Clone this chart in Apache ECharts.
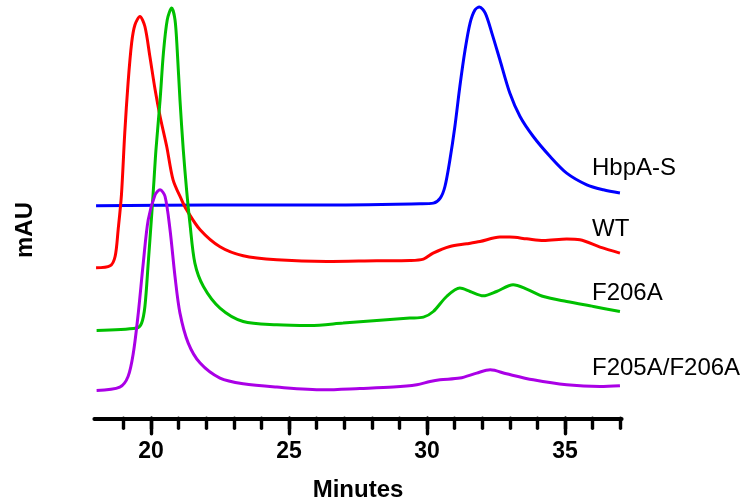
<!DOCTYPE html>
<html>
<head>
<meta charset="utf-8">
<script src="https://cdn.jsdelivr.net/npm/echarts@6/dist/echarts.min.js"></script>
<style>html,body{margin:0;padding:0;background:#fff}#c{width:756px;height:504px}</style>
</head>
<body>
<div id="c"></div>
<script>
// Elution time (minutes) and offset absorbance (mAU, arbitrary offset units)
const hbpaTime = [18.01,22.14,26.13,29.75,30.23,30.48,30.65,30.83,31.01,31.19,31.38,31.56,31.74,31.90,32.11,32.35,32.64,33.00,33.37,33.85,34.46,35.06,35.79,36.39,36.99];
const hbpaMAU  = [212.5,213.2,213.2,214.5,215.2,220.2,231.8,258.5,291.8,331.8,368.5,395.2,408.5,411.2,405.2,385.2,358.5,325.2,301.8,281.8,261.8,245.2,233.5,228.5,225.2];

const wtTime = [18.01,18.52,18.70,18.81,18.93,19.05,19.17,19.30,19.42,19.60,19.78,19.96,20.15,20.33,20.57,20.80,21.11,21.29,21.78,22.50,23.34,24.56,26.37,28.18,29.38,29.87,30.22,30.83,31.44,31.92,32.64,33.00,33.61,34.22,35.06,35.54,36.27,36.99];
const wtMAU  = [150.5,152.5,161.8,188.5,223.5,285.5,335.5,375.5,393.5,401.8,391.8,361.8,328.5,301.8,271.8,238.5,218.5,208.5,188.5,171.5,162.5,158.5,156.8,157.5,157.8,159.2,165.2,171.8,174.5,176.8,181.2,181.2,179.5,177.8,179.2,178.5,171.2,165.2];

const f206aTime = [18.03,19.48,19.66,19.78,19.90,20.03,20.11,20.18,20.33,20.45,20.59,20.75,20.87,20.95,21.05,21.17,21.29,21.41,21.59,21.90,22.50,23.34,24.56,25.76,26.96,28.18,29.38,29.87,30.23,30.71,31.19,31.56,32.04,32.52,33.12,33.61,34.22,35.06,36.03,36.99];
const f206aMAU  = [87.8,90.2,95.2,111.8,155.2,205.2,238.5,268.5,318.5,365.2,398.5,410.2,398.5,368.5,318.5,268.5,228.5,195.2,155.2,131.8,110.2,96.8,93.5,92.8,95.2,97.8,100.2,101.2,106.8,121.8,130.2,126.8,122.5,126.8,133.5,129.2,121.8,116.8,111.8,106.8];

const f205aTime = [18.03,18.87,19.17,19.36,19.54,19.72,19.90,20.15,20.33,20.51,20.69,20.87,21.05,21.35,21.78,22.50,23.34,24.56,26.25,27.57,28.78,29.63,30.11,30.47,31.19,31.80,32.29,32.88,33.85,35.06,36.27,36.99];
const f205aMAU  = [27.8,31.2,41.8,65.2,105.2,155.2,198.5,223.5,228.5,221.8,188.5,141.8,105.2,75.2,55.2,40.2,34.5,31.2,28.5,29.8,31.2,33.5,36.8,38.5,40.2,45.2,48.5,44.5,38.5,33.5,31.8,32.5];

const seriesNames = ['HbpA-S','WT','F206A','F205A/F206A'];
const majorTicks = [20,25,30,35];
const minorTicks = [19,20,21,22,23,24,25,26,27,28,29,30,31,32,33,34,35,36,37];
const xLabel = 'Minutes';
const yLabel = 'mAU';

const colors = ['#0000FF','#FF0000','#00C000','#AA00E6'];
const zip = (a,b) => a.map((v,i)=>[v,b[i]]);
const seriesData = [zip(hbpaTime,hbpaMAU), zip(wtTime,wtMAU), zip(f206aTime,f206aMAU), zip(f205aTime,f205aMAU)];
const labelY = [168,229,293,368];
const FONT = '"Liberation Sans", Arial, Helvetica, sans-serif';

const chart = echarts.init(document.getElementById('c'), null, {renderer:'canvas'});
chart.setOption({
  animation:false,
  backgroundColor:'#fff',
  grid:{left:94.4, right:134.4, top:0, bottom:85.7, containLabel:false, outerBoundsMode:'none'},
  xAxis:[{
    type:'value', min:17.95, max:37.05, position:'bottom',
    axisLine:{show:true, lineStyle:{color:'#000', width:4, cap:'round'}},
    axisTick:{show:true, customValues:majorTicks, length:15.5, lineStyle:{color:'#000', width:3.4, cap:'round'}},
    axisLabel:{show:true, customValues:majorTicks, margin:22, color:'#000', fontSize:23, fontWeight:'bold', fontFamily:FONT},
    splitLine:{show:false},
    name:xLabel, nameLocation:'middle', nameGap:60,
    nameTextStyle:{color:'#000', fontSize:24, fontWeight:'bold', fontFamily:FONT}
  },{
    type:'value', min:17.95, max:37.05, position:'bottom',
    axisLine:{show:false},
    axisTick:{show:true, customValues:minorTicks, length:10, lineStyle:{color:'#000', width:3.4, cap:'round'}},
    axisLabel:{show:false},
    splitLine:{show:false}
  }],
  yAxis:{type:'value', min:0, max:418.3, show:false},
  series: seriesNames.map((n,i)=>({
    name:n, type:'line', data:seriesData[i], showSymbol:false, symbol:'none',
    smooth:0.3,
    lineStyle:{color:colors[i], width:3}, z:2+i
  })),
  graphic:[
    {type:'text', x:25, y:230, rotation:Math.PI/2, style:{text:yLabel, font:'bold 24px '+FONT, fill:'#000', textAlign:'center', textVerticalAlign:'middle'}}
  ].concat(seriesNames.map((n,i)=>({
    type:'text', x:592, y:labelY[i], style:{text:n, font:'24px '+FONT, fill:'#000', textAlign:'left', textVerticalAlign:'middle'}
  })))
});
</script>
</body>
</html>
